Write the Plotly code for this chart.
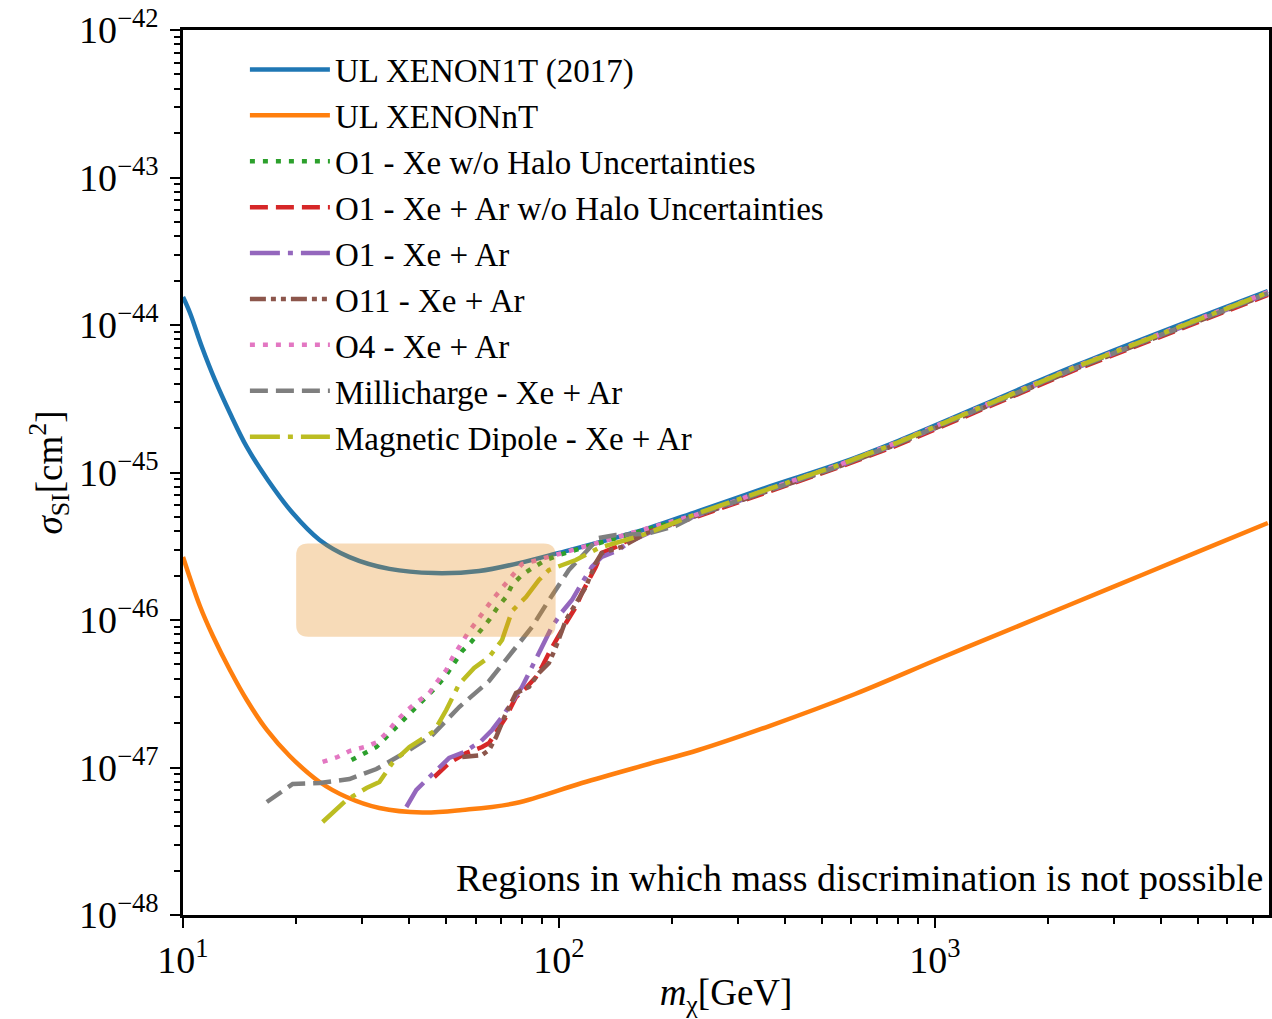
import math
import plotly.graph_objects as go

# ---------------- data ----------------
m_xenon1t = [10.0, 10.44, 11.23, 12.16, 13.33, 14.78, 16.81, 19.58, 23.09, 27.73, 35.41, 46.61,
             61.36, 78.31, 100, 115.1, 173.3, 235.2, 367.3, 553, 798, 2395, 7690]
s_xenon1t = [1.548e-44, 1.206e-44, 7.09e-45, 4.24e-45, 2.53e-45, 1.49e-45, 8.90e-46, 5.31e-46,
             3.49e-46, 2.67e-46, 2.22e-46, 2.08e-46, 2.15e-46, 2.43e-46, 2.85e-46, 3.13e-46,
             4.20e-46, 5.48e-46, 8.10e-46, 1.142e-45, 1.635e-45, 5.36e-45, 1.70e-44]

m_xenonnt = [10.0, 11.09, 12.01, 13.33, 14.78, 16.71, 19.22, 23.09, 27.23, 33.30, 43.32, 55.31,
             76.89, 115.1, 173.3, 235.2, 362.9, 613.6, 1037, 1754, 2948, 4985, 7690]
s_xenonnt = [2.674e-46, 1.244e-46, 7.79e-47, 4.58e-47, 2.868e-47, 1.796e-47, 1.197e-47, 7.974e-48,
             6.310e-48, 5.314e-48, 4.953e-48, 5.151e-48, 5.744e-48, 7.851e-48, 1.056e-47, 1.314e-47,
             1.911e-47, 3.150e-47, 5.526e-47, 9.60e-47, 1.658e-46, 2.882e-46, 4.546e-46]

m_o1_xe = [28.07, 30.40, 32.70, 34.76, 36.95, 39.53, 42.02, 44.66, 47.18, 50.15, 52.67, 55.31, 58.43,
           61.36, 65.21, 68.48, 72.35, 75.04, 79.77, 85.83, 92.37, 100, 115.1, 173.3, 235.2, 367.3,
           553, 798, 2395, 7690]
s_o1_xe = [1.124e-47, 1.254e-47, 1.377e-47, 1.610e-47, 1.882e-47, 2.200e-47, 2.571e-47, 3.006e-47,
           3.514e-47, 4.238e-47, 5.110e-47, 6.163e-47, 7.093e-47, 8.290e-47, 1.0e-46, 1.206e-46,
           1.432e-46, 1.727e-46, 2.019e-46, 2.287e-46, 2.551e-46, 2.759e-46, 3.077e-46, 4.140e-46,
           5.151e-46, 7.73e-46, 1.11e-45, 1.585e-45, 5.19e-45, 1.647e-44]

m_o1_xear_nohalo = [46.61, 51.07, 56.67, 62.49, 65.21, 68.06, 72.35, 76.89, 81.74, 86.89, 90.13, 94.08,
                    98.18, 104.4, 110.9, 115.1, 120.1, 125.3, 130.0, 141.6, 156.2, 173.3, 235.2, 367.3,
                    553, 798, 2395, 7690]
s_o1_xear_nohalo = [8.622e-48, 1.073e-47, 1.254e-47, 1.377e-47, 1.466e-47, 1.713e-47, 2.200e-47,
                    3.006e-47, 3.459e-47, 4.107e-47, 4.802e-47, 5.974e-47, 7.317e-47, 9.544e-47,
                    1.225e-46, 1.524e-46, 1.867e-46, 2.287e-46, 2.846e-46, 3.126e-46, 3.596e-46,
                    3.951e-46, 5.071e-46, 7.49e-46, 1.08e-45, 1.536e-45, 5.03e-45, 1.597e-44]

m_o1_xear = [39.28, 41.76, 44.39, 47.18, 51.07, 55.98, 62.11, 66.42, 70.60, 75.04, 79.77, 84.79, 90.13,
             95.80, 101.9, 108.3, 115.1, 122.3, 130.0, 144.3, 153.4, 173.3, 235.2, 367.3, 553, 798,
             2395, 7690]
s_o1_xear = [5.398e-48, 7.040e-48, 8.228e-48, 9.618e-48, 1.160e-47, 1.274e-47, 1.512e-47, 1.796e-47,
             2.200e-47, 2.781e-47, 3.514e-47, 4.802e-47, 6.560e-47, 8.965e-47, 1.133e-46, 1.366e-46,
             1.781e-46, 2.287e-46, 2.674e-46, 2.982e-46, 3.379e-46, 3.889e-46, 5.151e-46, 7.65e-46,
             1.10e-45, 1.57e-45, 5.15e-45, 1.63e-44]

m_o11_xear = [55.31, 62.49, 65.21, 68.06, 72.35, 76.89, 83.25, 88.49, 94.08, 98.18, 104.4, 110.9,
              117.9, 125.3, 130.0, 146.9, 173.3, 235.2, 367.3, 553, 798, 2395, 7690]
s_o11_xear = [1.178e-47, 1.215e-47, 1.314e-47, 1.610e-47, 2.342e-47, 3.200e-47, 3.514e-47, 4.372e-47,
              5.110e-47, 6.560e-47, 1.0e-46, 1.304e-46, 1.673e-46, 2.434e-46, 2.846e-46, 3.126e-46,
              3.951e-46, 5.151e-46, 7.60e-46, 1.09e-45, 1.56e-45, 5.10e-45, 1.62e-44]

m_o4_xear = [23.52, 25.77, 27.73, 30.40, 32.90, 34.98, 36.95, 39.53, 42.02, 45.21, 47.18, 50.15, 52.03,
             54.30, 57.02, 60.24, 63.26, 66.42, 70.60, 74.58, 79.77, 85.83, 92.37, 100, 173.3, 235.2,
             367.3, 553, 798, 2395, 7690]
s_o4_xear = [1.090e-47, 1.178e-47, 1.294e-47, 1.377e-47, 1.489e-47, 1.741e-47, 2.067e-47, 2.454e-47,
             2.781e-47, 3.200e-47, 3.740e-47, 4.581e-47, 5.526e-47, 6.663e-47, 8.036e-47, 9.692e-47,
             1.169e-46, 1.366e-46, 1.648e-46, 1.956e-46, 2.397e-46, 2.512e-46, 2.633e-46, 2.802e-46,
             4.204e-46, 5.231e-46, 7.85e-46, 1.12e-45, 1.61e-45, 5.28e-45, 1.67e-44]

m_millicharge = [16.71, 19.58, 23.09, 27.73, 32.70, 38.80, 45.77, 54.30, 65.21, 75.04, 84.79, 94.08,
                 106.3, 117.9, 127.6, 141.6, 170.2, 204.3, 235.2, 367.3, 553, 798, 2395, 7690]
s_millicharge = [5.836e-48, 7.727e-48, 7.851e-48, 8.356e-48, 9.768e-48, 1.254e-47, 1.635e-47,
                 2.571e-47, 3.858e-47, 5.974e-47, 8.965e-47, 1.366e-46, 2.183e-46, 2.891e-46,
                 3.596e-46, 3.770e-46, 3.830e-46, 4.338e-46, 5.231e-46, 7.70e-46, 1.10e-45,
                 1.58e-45, 5.17e-45, 1.64e-44]

m_magdipole = [23.52, 27.23, 30.77, 33.30, 36.06, 40.02, 46.61, 50.15, 54.30, 59.50, 65.21, 70.60,
               75.04, 81.74, 88.49, 94.08, 110.9, 127.6, 150.6, 170.2, 235.2, 367.3, 553, 798, 2395, 7690]
s_magdipole = [4.271e-48, 6.021e-48, 7.261e-48, 7.974e-48, 1.073e-47, 1.377e-47, 1.768e-47, 2.454e-47,
               3.683e-47, 4.727e-47, 5.614e-47, 7.317e-47, 1.151e-46, 1.432e-46, 1.867e-46, 2.183e-46,
               2.551e-46, 3.077e-46, 3.486e-46, 3.830e-46, 5.314e-46, 7.85e-46, 1.12e-45, 1.60e-45,
               5.24e-45, 1.66e-44]

# Shaded region (mass range in GeV, cross-section range in cm^2)
region_m = [20.0, 98.0]
region_s = [7.7e-47, 3.3e-46]

# Axis tick labels
x_tickvals = [10, 100, 1000]
x_ticktext = ["10<sup>1</sup>", "10<sup>2</sup>", "10<sup>3</sup>"]
y_tickvals = [1e-48, 1e-47, 1e-46, 1e-45, 1e-44, 1e-43, 1e-42]
y_ticktext = ["10<sup>−48</sup>", "10<sup>−47</sup>", "10<sup>−46</sup>", "10<sup>−45</sup>",
              "10<sup>−44</sup>", "10<sup>−43</sup>", "10<sup>−42</sup>"]

# ---------------- styling ----------------
FONT = "Liberation Serif"
FS_TICK = 38
FS_LEG = 33
FS_ANN = 38
LW = 4.5
DASHED = "18px,8px"
DOTTED = "5px,8px"
DASHDOT = "30px,8px,5px,8px"
DASHDOTDOT = "16px,5px,5px,5px,5px,5px"

series = [
    ("UL XENON1T (2017)", m_xenon1t, s_xenon1t, "#1f77b4", "solid", "spline"),
    ("UL XENONnT", m_xenonnt, s_xenonnt, "#ff7f0e", "solid", "spline"),
    ("O1 - Xe w/o Halo Uncertainties", m_o1_xe, s_o1_xe, "#2ca02c", DOTTED, "linear"),
    ("O1 - Xe + Ar w/o Halo Uncertainties", m_o1_xear_nohalo, s_o1_xear_nohalo, "#d62728", DASHED, "linear"),
    ("O1 - Xe + Ar", m_o1_xear, s_o1_xear, "#9467bd", DASHDOT, "linear"),
    ("O11 - Xe + Ar", m_o11_xear, s_o11_xear, "#8c564b", DASHDOTDOT, "linear"),
    ("O4 - Xe + Ar", m_o4_xear, s_o4_xear, "#e377c2", DOTTED, "linear"),
    ("Millicharge - Xe + Ar", m_millicharge, s_millicharge, "#7f7f7f", DASHED, "linear"),
    ("Magnetic Dipole - Xe + Ar", m_magdipole, s_magdipole, "#bcbd22", DASHDOT, "linear"),
]

fig = go.Figure()
for name, xs, ys, col, dash, shape in series:
    line = dict(color=col, width=LW, dash=dash, shape=shape)
    if shape == "spline":
        line["smoothing"] = 1.0
    fig.add_trace(go.Scatter(x=xs, y=ys, mode="lines", name=name, line=line))

# rounded rectangle for the shaded region (built in log space, corners ~12 px)
lx0, lx1 = math.log10(region_m[0]), math.log10(region_m[1])
ly0, ly1 = math.log10(region_s[0]), math.log10(region_s[1])
rx = 12 / 377.0
ry = 12 / 147.5


def P(lx, ly):
    return f"{10**lx:.6g},{10**ly:.6g}"


path = (f"M {P(lx0 + rx, ly0)} L {P(lx1 - rx, ly0)} Q {P(lx1, ly0)} {P(lx1, ly0 + ry)} "
        f"L {P(lx1, ly1 - ry)} Q {P(lx1, ly1)} {P(lx1 - rx, ly1)} "
        f"L {P(lx0 + rx, ly1)} Q {P(lx0, ly1)} {P(lx0, ly1 - ry)} "
        f"L {P(lx0, ly0 + ry)} Q {P(lx0, ly0)} {P(lx0 + rx, ly0)} Z")
fig.add_shape(type="path", path=path, xref="x", yref="y", layer="above",
              fillcolor="rgb(230,135,20)", opacity=0.3, line=dict(width=0))

fig.add_annotation(
    x=0.996, y=0.042, xref="paper", yref="paper", xanchor="right", yanchor="middle",
    text="Regions in which mass discrimination is not possible", showarrow=False,
    font=dict(family=FONT, size=FS_ANN, color="black"),
)

axis_common = dict(
    type="log", showgrid=False, zeroline=False,
    showline=True, linecolor="black", linewidth=2.5, mirror=True,
    ticks="outside", ticklen=10, tickwidth=2, tickcolor="black",
    tickmode="array",
    tickfont=dict(family=FONT, size=FS_TICK, color="black"),
    minor=dict(ticks="outside", ticklen=6, tickwidth=1.5, tickcolor="black", dtick="D1", showgrid=False),
)

fig.update_layout(
    width=1272, height=1019,
    margin=dict(l=183, r=0, t=30, b=104),
    plot_bgcolor="white", paper_bgcolor="white",
    font=dict(family=FONT, size=FS_TICK, color="black"),
    xaxis=dict(axis_common, range=[1, 3.889], tickvals=x_tickvals, ticktext=x_ticktext,
               title=dict(text="<i>m</i><sub>χ</sub>[GeV]", font=dict(family=FONT, size=37), standoff=4)),
    yaxis=dict(axis_common, range=[-48, -42], tickvals=y_tickvals, ticktext=y_ticktext,
               ticklabelstandoff=4,
               title=dict(text="<i>σ</i><sub>SI</sub>[cm<sup>2</sup>]", font=dict(family=FONT, size=37), standoff=6)),
    legend=dict(x=0.057, y=0.987, xanchor="left", yanchor="top", bgcolor="rgba(0,0,0,0)",
                borderwidth=0, font=dict(family=FONT, size=FS_LEG, color="black"),
                itemwidth=80, traceorder="normal"),
    showlegend=True,
)

fig.write_html("out.html")
